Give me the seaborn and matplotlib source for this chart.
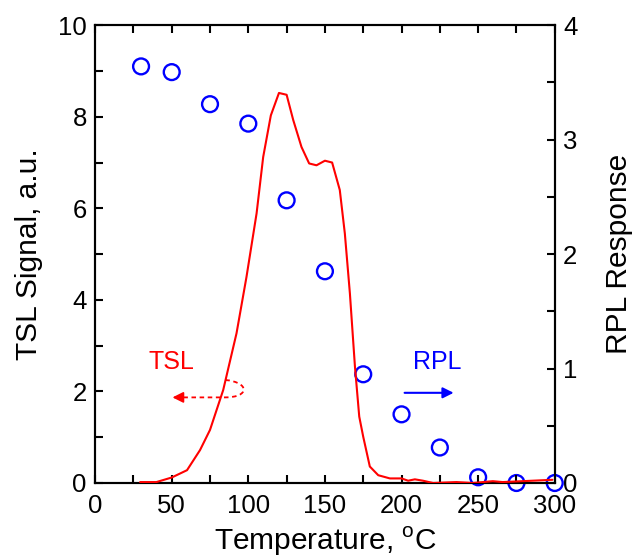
import numpy as np
import pandas as pd
import matplotlib
matplotlib.use("Agg")
import matplotlib.pyplot as plt
import seaborn as sns
from matplotlib.path import Path
from matplotlib.patches import PathPatch
from matplotlib.ticker import MultipleLocator

# --- data ---
tsl_temp = [29.4, 40, 50, 60, 68.5, 75, 83.6, 92.3, 98.8, 105.4, 109.7, 114.7, 120, 125,
            129.3, 134.7, 139.7, 144.5, 150, 154.7, 159.7, 163, 166.3, 169.6, 172.4, 175,
            179.3, 184.8, 192.4, 200, 204.3, 208.7, 214, 220.6, 235.8, 246.6, 259.6, 266,
            279, 298.5]
tsl_signal = [0.02, 0.02, 0.12, 0.28, 0.72, 1.16, 2.03, 3.27, 4.5, 5.89, 7.12, 8.03, 8.52, 8.48,
              7.93, 7.34, 6.98, 6.94, 7.04, 7.0, 6.4, 5.45, 4.14, 2.54, 1.45, 1.01,
              0.36, 0.17, 0.10, 0.10, 0.05, 0.08, 0.05, 0.0, 0.02, 0.0, 0.04, 0.02,
              0.04, 0.07]
rpl_temp = [30, 50, 75, 100, 125, 150, 175, 200, 225, 250, 275, 300]
rpl_response = [3.64, 3.59, 3.31, 3.14, 2.47, 1.85, 0.95, 0.60, 0.31, 0.05, 0.0, 0.0]

x_ticks = [0, 50, 100, 150, 200, 250, 300]
left_ticks = [0, 2, 4, 6, 8, 10]
right_ticks = [0, 1, 2, 3, 4]

sns.set_theme(style="ticks")
plt.rcParams['font.family'] = ['Liberation Sans', 'DejaVu Sans']
plt.rcParams['mathtext.fontset'] = 'custom'
plt.rcParams['mathtext.rm'] = 'Liberation Sans'
plt.rcParams['text.color'] = 'black'
plt.rcParams['axes.labelcolor'] = 'black'
plt.rcParams['xtick.color'] = 'black'
plt.rcParams['ytick.color'] = 'black'

fig = plt.figure(figsize=(6.34, 5.6), dpi=100)
ax = fig.add_axes([0.150, 0.1375, 0.725, 0.8175])
ax2 = ax.twinx()

tsl_df = pd.DataFrame({"T": tsl_temp, "S": tsl_signal})
rpl_df = pd.DataFrame({"T": rpl_temp, "R": rpl_response})

sns.lineplot(data=tsl_df, x="T", y="S", ax=ax, color="#ff0000", linewidth=1.5, zorder=3)
sns.scatterplot(data=rpl_df, x="T", y="R", ax=ax2, marker="o", s=130,
                facecolor="none", edgecolor="#0000ff", linewidth=1.7, zorder=4, clip_on=False)

ax.set_xlim(0, 300)
ax.set_ylim(0, 10)
ax2.set_ylim(0, 4)

fs_tick = 18.5
fs_label = 21.5
ax.set_xticks(x_ticks)
ax.set_yticks(left_ticks)
ax2.set_yticks(right_ticks)
ax.xaxis.set_minor_locator(MultipleLocator(25))
ax.yaxis.set_minor_locator(MultipleLocator(1))
ax2.yaxis.set_minor_locator(MultipleLocator(0.5))

ax.tick_params(axis='x', which='both', direction='in', top=True, length=6, width=1.5,
               labelsize=fs_tick, pad=8, color='black', labelcolor='black')
ax.tick_params(axis='y', which='both', direction='in', right=False, length=6, width=1.5,
               labelsize=fs_tick, pad=6, color='black', labelcolor='black')
ax2.tick_params(axis='y', which='both', direction='in', length=6, width=1.5,
                labelsize=fs_tick, pad=6, color='black', labelcolor='black')

for a in (ax, ax2):
    for sp in a.spines.values():
        sp.set_visible(True)
        sp.set_linewidth(1.5)
        sp.set_color('black')

ax.set_xlabel(r"Temperature, $^\mathregular{o}$C", fontsize=fs_label, labelpad=5, color='black')
ax.set_ylabel("TSL Signal, a.u.", fontsize=fs_label, labelpad=11, color='black')
ax2.set_ylabel("RPL Response", fontsize=fs_label, labelpad=20, color='black')

# annotations
ax.text(49.5, 2.64, "TSL", color="#ff0000", fontsize=18, ha="center", va="center")
ax.text(223, 2.65, "RPL", color="#0000ff", fontsize=18, ha="center", va="center")

loop = Path([(85, 2.25), (101, 2.2), (101, 1.87), (85, 1.87), (56, 1.87)],
            [Path.MOVETO, Path.CURVE4, Path.CURVE4, Path.CURVE4, Path.LINETO])
ax.add_patch(PathPatch(loop, facecolor="none", edgecolor="#ff0000", linestyle=(0, (2.5, 2)),
                       linewidth=1.3, zorder=5))
ax.annotate("", xy=(50.5, 1.87), xytext=(57, 1.87),
            arrowprops=dict(arrowstyle="-|>", color="#ff0000", lw=1.3, mutation_scale=16,
                            shrinkA=0, shrinkB=0))
ax.annotate("", xy=(234, 1.97), xytext=(202, 1.97),
            arrowprops=dict(arrowstyle="-|>", color="#0000ff", lw=1.5, mutation_scale=16,
                            shrinkA=0, shrinkB=0))

ax.set_zorder(ax2.get_zorder() + 1)
ax.patch.set_visible(False)

fig.savefig("out.png", dpi=100)
